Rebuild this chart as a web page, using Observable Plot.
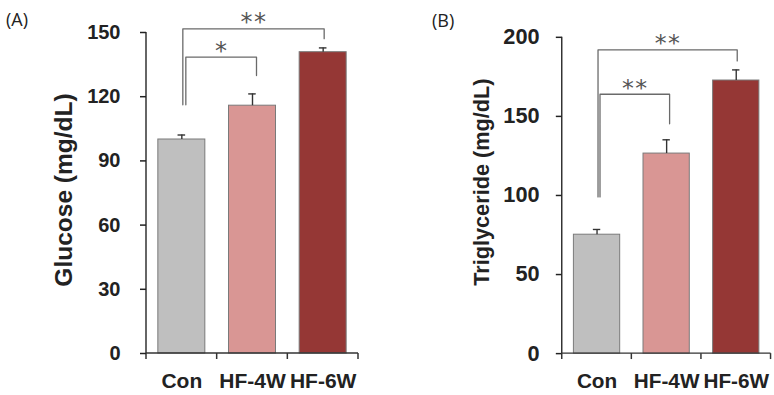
<!DOCTYPE html>
<html><head><meta charset="utf-8">
<script src="https://cdn.jsdelivr.net/npm/d3@7"></script>
<script src="https://cdn.jsdelivr.net/npm/@observablehq/plot@0.6"></script>
<style>
body{margin:0;background:#fff;width:774px;height:395px;overflow:hidden;position:relative;font-family:"Liberation Sans",Arial,sans-serif}
.panel{position:absolute;top:0}
.tag{position:absolute;font-family:"Open Sans",sans-serif;font-size:18px;color:#222;line-height:18px}
</style></head><body>
<div class="tag" id="tagA" style="left:6px;top:10px"></div>
<div class="tag" id="tagB" style="left:432px;top:11px"></div>
<div class="panel" id="pa" style="left:0"></div>
<div class="panel" id="pb" style="left:387px"></div>
<script>
// ---- data ----
const groups = ["Con", "HF-4W", "HF-6W"];
const groupColors = ["#bfbfbf", "#d99694", "#953735"];

const glucoseMean = [100, 115.8, 140.8];
const glucoseSE = [2.1, 5.5, 2.0];
const glucoseTicks = [0, 30, 60, 90, 120, 150];

const tgMean = [75.2, 126.5, 172.7];
const tgSE = [3.3, 8.7, 6.7];
const tgTicks = [0, 50, 100, 150, 200];

const titleA = "Glucose (mg/dL)";
const titleB = "Triglyceride (mg/dL)";
const tagA = "(A)";
const tagB = "(B)";

// significance brackets (from, to, bracket top, left leg end, right leg end, label)
const sigAFrom = ["Con", "Con"];
const sigATo = ["HF-4W", "HF-6W"];
const sigATop = [138.5, 151.7];
const sigALeftEnd = [116.2, 116.2];
const sigARightEnd = [129.9, 147.1];
const sigALabel = ["*", "**"];

const sigBFrom = ["Con", "Con"];
const sigBTo = ["HF-4W", "HF-6W"];
const sigBTop = [164, 192.1];
const sigBLeftEnd = [99.1, 99.1];
const sigBRightEnd = [145.3, 185.1];
const sigBLabel = ["**", "**"];

document.getElementById("tagA").textContent = tagA;
document.getElementById("tagB").textContent = tagB;

function axisLines(yMax) {
  return (index, scales) => {
    const {x, y} = scales;
    const step = x.step(), bw = x.bandwidth();
    const edges = groups.map(g => x(g) + bw / 2 - step / 2);
    edges.push(edges[edges.length - 1] + step);
    const g = d3.create("svg:g").attr("stroke", "#333").attr("stroke-width", 1.5).attr("fill", "none");
    g.append("line").attr("x1", edges[0]).attr("x2", edges[0]).attr("y1", y(0)).attr("y2", y(yMax));
    g.append("line").attr("x1", edges[0]).attr("x2", edges[edges.length - 1]).attr("y1", y(0)).attr("y2", y(0));
    for (const e of edges) g.append("line").attr("x1", e).attr("x2", e).attr("y1", y(0)).attr("y2", y(0) + 6);
    return g.node();
  };
}

function sigLabels(brackets, lift) {
  return (index, scales) => {
    const {x, y} = scales;
    const bw = x.bandwidth();
    const g = d3.create("svg:g")
      .attr("font-family", "DejaVu Sans, sans-serif")
      .attr("font-size", 24)
      .attr("fill", "#555")
      .attr("text-anchor", "middle");
    for (const b of brackets) {
      g.append("text")
        .attr("x", (x(b.from) + x(b.to)) / 2 + bw / 2 + b.dx + 1)
        .attr("y", y(b.top) - lift)
        .attr("letter-spacing", 1.5)
        .text(b.label);
    }
    return g.node();
  };
}

function panel(o) {
  const rows = groups.map((g, i) => ({group: g, mean: o.means[i], top: o.means[i] + o.ses[i]}));
  const brackets = o.from.map((f, i) => ({
    id: i, from: f, to: o.to[i], top: o.top[i], left: o.leftEnd[i], right: o.rightEnd[i],
    label: o.label[i], dx: o.dx[i]
  }));
  const bracketMarks = brackets.map(b => Plot.line(
    [{x: b.from, y: b.left}, {x: b.from, y: b.top}, {x: b.to, y: b.top}, {x: b.to, y: b.right}],
    {x: "x", y: "y", stroke: "#6a6a6a", strokeWidth: 1.3, dx: b.dx}
  ));
  return Plot.plot({
    width: o.width, height: 395,
    marginLeft: o.ml, marginRight: o.mr, marginTop: o.mt, marginBottom: o.mb,
    style: {fontFamily: "'Liberation Sans', Arial, sans-serif", color: "#222", overflow: "visible", background: "transparent"},
    x: {domain: groups, paddingInner: 0.335, paddingOuter: 0.1675, round: false},
    y: {domain: [0, o.yMax]},
    color: {domain: groups, range: groupColors},
    marks: [
      Plot.barY(rows, {x: "group", y: "mean", fill: "group", stroke: "#7a7a7a", strokeWidth: 1}),
      Plot.ruleX(rows, {x: "group", y1: "mean", y2: "top", stroke: "#333", strokeWidth: 1.4}),
      Plot.tickY(rows, {x: "group", y: "top", stroke: "#333", strokeWidth: 1.4, insetLeft: 19.7, insetRight: 19.7}),
      ...bracketMarks,
      sigLabels(brackets, o.lift),
      axisLines(o.yMax),
      Plot.axisY({ticks: o.ticks, tickSize: 6, tickPadding: o.tp, fontSize: o.fsY, fontWeight: "bold", strokeWidth: 1.5, label: null}),
      Plot.axisX({tickSize: 0, tickPadding: 20, fontSize: 21, fontWeight: "bold", label: null}),
      Plot.text([o.title], {text: d => d, frameAnchor: "left", textAnchor: "middle", lineAnchor: "middle",
        rotate: -90, dx: o.tdx, dy: o.tdy, fontSize: o.fsT, fontWeight: "bold", fill: "#222"})
    ]
  });
}

document.getElementById("pa").append(panel({
  means: glucoseMean, ses: glucoseSE, ticks: glucoseTicks, yMax: 150, title: titleA,
  from: sigAFrom, to: sigATo, top: sigATop, leftEnd: sigALeftEnd, rightEnd: sigARightEnd, label: sigALabel,
  dx: [4, 1], lift: -2,
  width: 387, ml: 146, mr: 29, mt: 32, mb: 42, tp: 20, fsY: 20, fsT: 24.5, tdx: -82, tdy: -3
}));

document.getElementById("pb").append(panel({
  means: tgMean, ses: tgSE, ticks: tgTicks, yMax: 200, title: titleB,
  from: sigBFrom, to: sigBTo, top: sigBTop, leftEnd: sigBLeftEnd, rightEnd: sigBRightEnd, label: sigBLabel,
  dx: [3, 1], lift: -2,
  width: 392, ml: 177, mr: 3.5, mt: 37.3, mb: 37.3, tp: 17, fsY: 22, fsT: 22, tdx: -81, tdy: -13.5
}));
</script>
</body></html>
